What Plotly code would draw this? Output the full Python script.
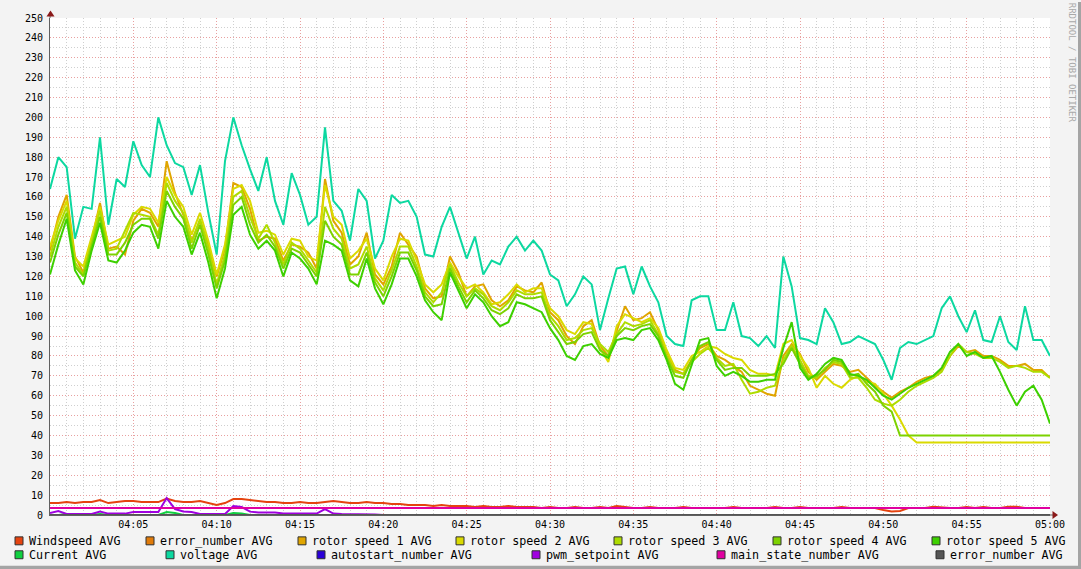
import plotly.graph_objects as go
import pandas as pd

# 30 s samples, 04:00 .. 05:00
times = pd.date_range("2024-01-01 04:00:00", periods=121, freq="30s")

voltage = [164, 180, 175, 139, 155, 154, 190, 146, 169, 165,
           188, 176, 170, 200, 186, 177, 175, 161, 176, 152,
           131, 178, 200, 186, 174, 163, 180, 158, 146, 172,
           161, 146, 150, 195, 158, 153, 138, 164, 158, 129,
           138, 161, 157, 158, 150, 131, 130, 145, 155, 142,
           129, 140, 121, 128, 126, 135, 140, 133, 138, 133,
           121, 118, 105, 111, 120, 116, 93, 109, 124, 125,
           111, 125, 115, 107, 90, 86, 85, 108, 110, 110,
           93, 93, 107, 90, 89, 85, 90, 84, 130, 115,
           89, 88, 86, 104, 97, 86, 87, 90, 88, 86,
           78, 68, 84, 87, 86, 88, 90, 104, 110, 100,
           92, 103, 88, 87, 100, 87, 83, 105, 88, 88, 80]

rotor1 = [133, 150, 161, 130, 122, 138, 157, 134, 135, 131,
          148, 154, 152, 145, 178, 162, 151, 138, 148, 136,
          120, 134, 167, 165, 154, 138, 140, 139, 128, 136,
          135, 132, 124, 169, 148, 142, 126, 130, 142, 121,
          116, 125, 142, 136, 130, 114, 109, 110, 130, 122,
          110, 115, 116, 108, 105, 108, 115, 113, 112, 117,
          102, 98, 90, 86, 95, 98, 85, 80, 93, 105,
          98, 99, 102, 93, 82, 73, 71, 78, 84, 86,
          80, 78, 75, 72, 65, 63, 61, 60, 80, 86,
          81, 72, 68, 72, 76, 75, 72, 73, 69, 65,
          62, 59, 62, 64, 67, 69, 70, 73, 80, 85,
          82, 83, 80, 80, 78, 75, 75, 76, 73, 73, 69]

rotor2 = [135, 148, 158, 129, 125, 140, 155, 136, 138, 140,
          151, 155, 154, 147, 170, 161, 155, 141, 152, 138,
          121, 136, 164, 166, 158, 142, 143, 141, 131, 139,
          138, 130, 128, 166, 150, 146, 129, 133, 139, 124,
          118, 130, 139, 138, 128, 116, 112, 116, 127, 120,
          114, 116, 112, 106, 107, 111, 116, 112, 114, 114,
          104, 100, 93, 91, 97, 96, 84, 77, 95, 101,
          99, 97, 99, 94, 83, 74, 73, 80, 82, 85,
          84, 81, 79, 78, 73, 71, 71, 70, 86, 88,
          80, 74, 64, 70, 66, 64, 68, 70, 67, 66,
          61, 55, 48, 40, 36.5, 36.5, 36.5, 36.5, 36.5, 36.5,
          36.5, 36.5, 36.5, 36.5, 36.5, 36.5, 36.5, 36.5, 36.5, 36.5, 36.5]

rotor3 = [130, 145, 155, 127, 121, 137, 153, 133, 134, 143,
          152, 151, 150, 141, 167, 158, 152, 137, 149, 134,
          116, 131, 160, 163, 150, 139, 146, 137, 126, 137,
          134, 128, 122, 155, 144, 139, 124, 126, 135, 119,
          113, 123, 135, 135, 125, 112, 107, 112, 126, 117,
          110, 114, 111, 105, 103, 107, 113, 111, 111, 112,
          100, 95, 88, 89, 93, 94, 86, 82, 91, 97,
          95, 96, 98, 91, 80, 72, 71, 77, 81, 84,
          79, 75, 76, 68, 61, 62, 64, 65, 78, 85,
          78, 70, 69, 74, 77, 76, 69, 69, 64, 58,
          56, 55, 58, 62, 65, 67, 69, 72, 80, 86,
          82, 81, 79, 79, 77, 74, 75, 74, 72, 72, 69]

rotor4 = [127, 141, 152, 125, 120, 135, 150, 131, 131, 137,
          146, 149, 149, 139, 163, 155, 149, 134, 146, 131,
          114, 128, 156, 160, 146, 137, 141, 135, 124, 134,
          132, 126, 120, 148, 140, 136, 121, 121, 132, 117,
          110, 120, 132, 132, 123, 110, 105, 106, 124, 115,
          107, 113, 109, 103, 101, 104, 111, 109, 109, 110,
          98, 92, 86, 87, 91, 92, 83, 80, 90, 94,
          93, 95, 96, 90, 79, 70, 69, 78, 85, 87,
          78, 73, 74, 74, 70, 70, 70, 71, 76, 84,
          76, 69, 70, 73, 78, 77, 70, 71, 66, 62,
          55, 52, 40, 40, 40, 40, 40, 40, 40, 40,
          40, 40, 40, 40, 40, 40, 40, 40, 40, 40, 40]

rotor5 = [121, 136, 149, 123, 116, 133, 147, 128, 127, 133,
          142, 146, 145, 134, 158, 150, 145, 131, 142, 127,
          109, 124, 151, 155, 141, 134, 138, 133, 120, 132,
          129, 124, 116, 138, 136, 133, 118, 115, 129, 114,
          106, 116, 129, 129, 120, 108, 102, 98, 122, 113,
          104, 111, 107, 100, 95, 97, 107, 106, 104, 102,
          94, 88, 80, 78, 85, 86, 81, 79, 88, 89,
          88, 93, 94, 88, 78, 66, 63, 76, 88, 89,
          75, 70, 72, 70, 67, 67, 68, 68, 84, 97,
          74, 68, 71, 76, 79, 78, 71, 70, 68, 64,
          60, 58, 61, 64, 66, 68, 70, 74, 82, 86,
          80, 82, 79, 80, 72, 63, 55, 62, 65, 58, 46]

windspeed = [6, 6, 6.5, 6, 6.5, 6.5, 7.5, 6, 6.5, 7,
             7, 6.5, 6.5, 6.5, 8.3, 7, 6.5, 6.5, 7, 6,
             5, 6, 8, 8, 7.5, 7, 6.5, 6.5, 6, 6,
             6.5, 6, 6, 6.5, 7, 6.5, 6, 6, 6.5, 6,
             6, 5.5, 5.5, 5, 5, 5, 4.5, 5, 4.5, 4.5,
             4.5, 4, 4.5, 4, 4, 4.5, 4, 4, 4, 3.5,
             4, 3.5, 3.5, 4, 3.5, 3.5, 4, 3.5, 4.5, 4,
             3.5, 3.5, 4, 3.5, 3.5, 3.5, 4, 3.5, 3.5, 3.5,
             3.5, 3.5, 4, 3.5, 3.5, 3.5, 3.5, 4, 3.5, 3.5,
             4, 3.5, 3.5, 3.5, 3.5, 4, 3.5, 3.5, 3.5, 3.5,
             2.5, 1.8, 2, 3.5, 3.5, 3.5, 4.2, 3.8, 3.5, 3.5,
             4, 3.5, 4, 3.5, 3.5, 4.2, 4.2, 3.5, 3.5, 3.5, 3.5]

pwm_setpoint = [1, 2, 0.5, 0.5, 0.5, 0.5, 1.7, 0.7, 0.7, 0.7,
                1.5, 1.5, 1.5, 1.5, 8.5, 3, 1.8, 1.5, 0.5, 0.5,
                0.5, 0.5, 4.5, 4, 1.7, 1.2, 1.2, 1.2, 0.7, 0.7,
                0.5, 0.5, 0.7, 3, 0.7, 0.5, 0.5, 0.5, 0.3, 0.3,
                0, 0, 0, 0, 0, 0, 0, 0, 0, 0,
                0, 0, 0, 0, 0, 0, 0, 0, 0, 0,
                0, 0, 0, 0, 0, 0, 0, 0, 0, 0,
                0, 0, 0, 0, 0, 0, 0, 0, 0, 0,
                0, 0, 0, 0, 0, 0, 0, 0, 0, 0,
                0, 0, 0, 0, 0, 0, 0, 0, 0, 0,
                0, 0, 0, 0, 0, 0, 0, 0, 0, 0,
                0, 0, 0, 0, 0, 0, 0, 0, 0, 0, 0]

current = [0, 0, 0.5, 0, 0, 0, 0.5, 0, 0, 0,
           0, 0, 0, 0, 1.5, 1, 0, 0, 0, 0,
           0, 0, 1, 0.8, 0, 0, 0, 0, 0, 0] + [0] * 91

main_state = [3.5] * 121
autostart = [0] * 121
error_number_a = [0] * 121
error_number_b = [0] * 121

legend_names = ["Windspeed AVG", "error_number AVG", "rotor speed 1 AVG",
                "rotor speed 2 AVG", "rotor speed 3 AVG", "rotor speed 4 AVG",
                "rotor speed 5 AVG", "Current AVG", "voltage AVG",
                "autostart_number AVG", "pwm_setpoint AVG",
                "main_state_number AVG", "error_number AVG"]
colors = ["#E5430F", "#E07B0A", "#E0A500", "#DADA00", "#AEDC00", "#7DD200",
          "#3DD000", "#10D040", "#0CD8A0", "#2A00D8", "#A000E0", "#E000A0",
          "#555555"]
values = [windspeed, error_number_a, rotor1, rotor2, rotor3, rotor4, rotor5,
          current, voltage, autostart, pwm_setpoint, main_state, error_number_b]

x_tickvals = ["2024-01-01 04:05", "2024-01-01 04:10", "2024-01-01 04:15",
              "2024-01-01 04:20", "2024-01-01 04:25", "2024-01-01 04:30",
              "2024-01-01 04:35", "2024-01-01 04:40", "2024-01-01 04:45",
              "2024-01-01 04:50", "2024-01-01 04:55", "2024-01-01 05:00"]
x_ticktext = ["04:05", "04:10", "04:15", "04:20", "04:25", "04:30",
              "04:35", "04:40", "04:45", "04:50", "04:55", "05:00"]

MONO = "DejaVu Sans Mono"

fig = go.Figure()
for name, ys, col in zip(legend_names, values, colors):
    fig.add_trace(go.Scatter(x=times, y=ys, mode="lines", name=name,
                             line=dict(color=col, width=2), showlegend=False))


# pixel helpers (plot area: x 50..1050, y 15..515)
def px(x):
    return (x - 50) / 1000.0


def py(y):
    return (515 - y) / 500.0


shapes = []
annotations = []

# legend, built by hand so it sits like the rrdtool one
rows = [(541, [19, 150, 302, 460, 618, 777, 936]),
        (555, [19, 170, 321, 536, 721, 940])]
k = 0
for row_y, centers in rows:
    for c in centers:
        shapes.append(dict(type="rect", xref="paper", yref="paper",
                           x0=px(c - 4), x1=px(c + 4), y0=py(row_y + 4), y1=py(row_y - 4),
                           fillcolor=colors[k], line=dict(color="#303030", width=1)))
        annotations.append(dict(x=px(c + 8), y=py(row_y), xref="paper", yref="paper",
                                text=legend_names[k], showarrow=False,
                                xanchor="left", yanchor="middle",
                                font=dict(family=MONO, size=11.7, color="#000")))
        k += 1

# axis extensions and arrows
shapes.append(dict(type="line", xref="paper", yref="paper", x0=0, x1=0,
                   y0=1, y1=py(9), line=dict(color="#606060", width=1)))
shapes.append(dict(type="path", xref="paper", yref="paper",
                   path="M %f %f L %f %f L %f %f Z" % (px(46.5), py(13.5), px(54.5), py(13.5), px(50.5), py(7.5)),
                   fillcolor="#8B1A1A", line=dict(width=0)))
shapes.append(dict(type="line", xref="paper", yref="paper", x0=1, x1=px(1053),
                   y0=0, y1=0, line=dict(color="#606060", width=1)))
shapes.append(dict(type="path", xref="paper", yref="paper",
                   path="M %f %f L %f %f L %f %f Z" % (px(1052.5), py(511), px(1052.5), py(519), px(1058), py(515)),
                   fillcolor="#8B1A1A", line=dict(width=0)))

# 3d frame shade
shapes.append(dict(type="rect", xref="paper", yref="paper", x0=px(1078), x1=px(1082),
                   y0=py(570), y1=py(-1), fillcolor="#A4A4A4", line=dict(width=0)))
shapes.append(dict(type="rect", xref="paper", yref="paper", x0=px(-1), x1=px(1082),
                   y0=py(570), y1=py(566), fillcolor="#A4A4A4", line=dict(width=0)))

annotations.append(dict(x=px(1072), y=py(60), xref="paper", yref="paper",
                        text="RRDTOOL / TOBI OETIKER", showarrow=False, textangle=90,
                        xanchor="center", yanchor="middle",
                        font=dict(family=MONO, size=9, color="#A8A8A8")))

fig.update_layout(
    width=1081, height=569,
    margin=dict(l=50, r=31, t=15, b=54),
    paper_bgcolor="#F3F3F3",
    plot_bgcolor="#FFFFFF",
    shapes=shapes,
    annotations=annotations,
    showlegend=False,
    hovermode=False,
)

fig.update_xaxes(
    type="date",
    range=["2024-01-01 04:00", "2024-01-01 05:00"],
    tickmode="array", tickvals=x_tickvals, ticktext=x_ticktext,
    tickfont=dict(family=MONO, size=10, color="#000"),
    showgrid=True, gridcolor="#E8A0A0", griddash="1px,2px", gridwidth=1,
    minor=dict(tickmode="linear", tick0="2024-01-01 04:00", dtick=60000,
               showgrid=True, gridcolor="#CFCFCF", griddash="1px,2px", gridwidth=1),
    showline=True, linecolor="#606060", linewidth=1,
    zeroline=False, ticks="",
)
fig.update_yaxes(
    range=[0, 250], tickmode="linear", tick0=0, dtick=10,
    tickfont=dict(family=MONO, size=10, color="#000"),
    showgrid=True, gridcolor="#E8A0A0", griddash="1px,2px", gridwidth=1,
    minor=dict(tickmode="linear", tick0=0, dtick=5,
               showgrid=True, gridcolor="#CFCFCF", griddash="1px,2px", gridwidth=1),
    showline=True, linecolor="#606060", linewidth=1,
    zeroline=False, ticks="", ticklabelstandoff=4,
)

# page has a default 8px body margin; drop it so the figure sits at 0,0
fig.write_html("out.html", config={"displayModeBar": False},
               post_script="document.body.style.margin='0';document.body.style.overflow='hidden';")
